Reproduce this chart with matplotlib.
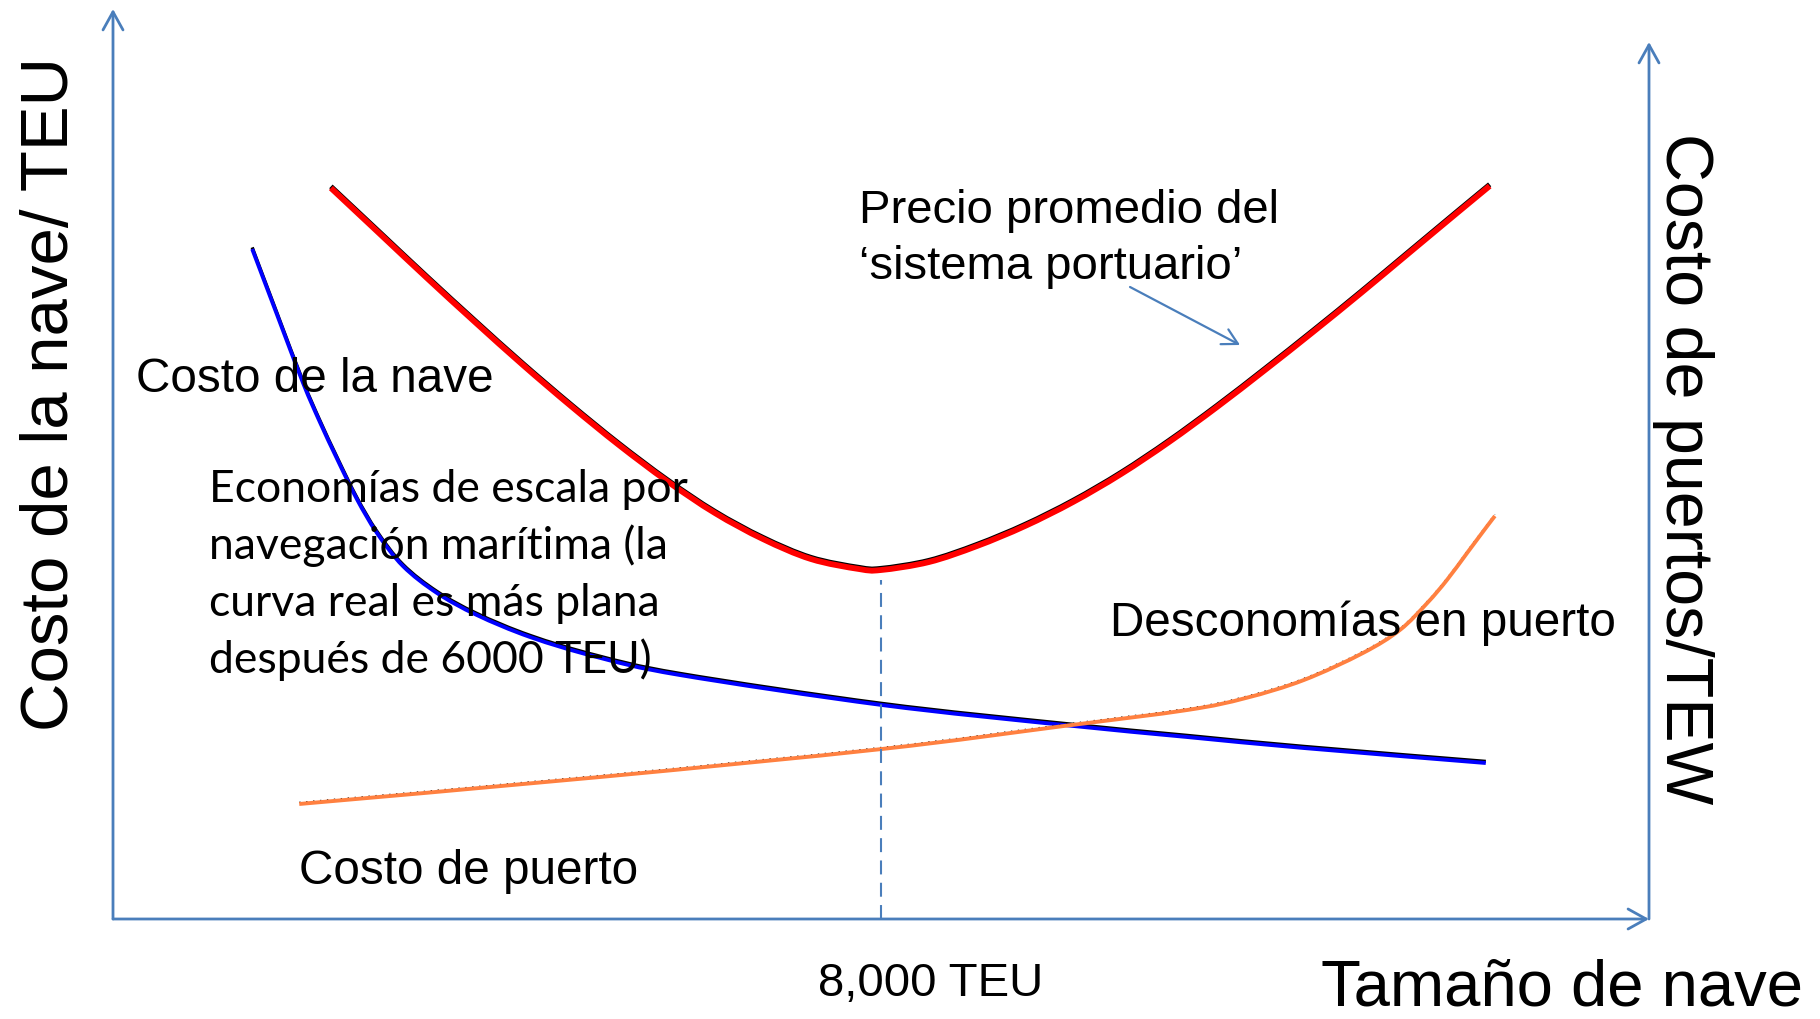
import numpy as np
import matplotlib
matplotlib.use("Agg")
import matplotlib.pyplot as plt
import matplotlib.transforms as mtransforms
from matplotlib.path import Path
from matplotlib.patches import PathPatch

# ship size (TEU) vs cost per TEU
precio_x = [2270, 2770, 3270, 3770, 4270, 4770, 5270, 5770, 6270, 6770, 7270, 7770,
            8000, 8500, 9000, 9500, 10000, 10500, 11000, 11500, 12000, 12500,
            13000, 13500, 14000, 14340]
precio_y = [73.1, 68.6, 64.1, 59.7, 55.4, 51.3, 47.4, 43.8, 40.6, 38.0, 36.0, 35.0,
            34.9, 35.7, 37.3, 39.3, 41.7, 44.5, 47.7, 51.2, 54.9, 58.7,
            62.6, 66.6, 70.6, 73.3]

nave_x = [1450, 1710, 1980, 2155, 2335, 2540, 2750, 3020, 3375, 3790,
          4345, 5040, 5905, 8010, 9905, 11190, 12405, 14300]
nave_y = [67.0, 60.4, 53.6, 49.7, 46.0, 42.0, 38.6, 35.3, 32.6, 30.4,
          28.2, 26.2, 24.4, 21.4, 19.4, 18.2, 17.1, 15.6]

puerto_x = [1940, 5075, 8010, 9905, 11190, 11800, 12405, 13020, 13405, 13690,
            13895, 14105, 14315, 14395]
puerto_y = [11.5, 14.2, 17.0, 19.3, 20.9, 22.1, 23.9, 26.6, 28.9, 31.6,
            33.9, 36.6, 39.3, 40.3]

optimo_teu = 8000
optimo_costo = 33.9
x_max = 16000
y_max_izq = 91.0
y_max_der = 87.7

eco_lineas = ["Economías de escala por",
              "navegación marítima (la",
              "curva real es más plana",
              "después de 6000 TEU)"]
precio_lineas = ["Precio promedio del", "\u2018sistema portuario\u2019"]

azul = "#4a7ebb"
arial = ["Liberation Sans", "DejaVu Sans"]
calibri = ["Lato", "DejaVu Sans"]


def curva_suave(xs, ys):
    # smooth bezier path through the points (catmull-rom tangents)
    p = np.column_stack([xs, ys]).astype(float)
    verts = [p[0]]
    codes = [Path.MOVETO]
    n = len(p)
    for i in range(n - 1):
        a = p[i - 1] if i > 0 else p[i]
        b = p[i]
        c = p[i + 1]
        d = p[i + 2] if i + 2 < n else p[i + 1]
        verts += [b + (c - a) / 6.0, c - (d - b) / 6.0, c]
        codes += [Path.CURVE4] * 3
    return Path(verts, codes)


def trazo(path, color, lw, transform, **kw):
    ax.add_patch(PathPatch(path, facecolor="none", edgecolor=color, lw=lw,
                           transform=transform, capstyle="butt", **kw))


fig = plt.figure(figsize=(18.2, 10.19), dpi=100)
ax = fig.add_axes([0, 0, 1, 1])
ax.set_xlim(-1177.1, 17781.25)
ax.set_ylim(-10, 91.9)
ax.axis("off")

# axes drawn as open arrows
flecha = dict(arrowstyle="->,head_length=0.65,head_width=0.36", color=azul,
              lw=2.0, shrinkA=0, shrinkB=0, mutation_scale=20)
ax.annotate("", xy=(0, y_max_izq), xytext=(0, 0), arrowprops=flecha)
ax.annotate("", xy=(x_max, 0), xytext=(0, 0), arrowprops=flecha)
ax.annotate("", xy=(x_max, y_max_der), xytext=(x_max, 0), arrowprops=flecha)

# curves with a thin black edge just above them
sombra = mtransforms.offset_copy(ax.transData, fig=fig, x=0, y=1.6, units="dots")
p_precio = curva_suave(precio_x, precio_y)
p_nave = curva_suave(nave_x, nave_y)
p_puerto = curva_suave(puerto_x, puerto_y)
trazo(p_precio, "black", 3.6, sombra)
trazo(p_precio, "#ff0000", 4.2, ax.transData)
trazo(p_nave, "black", 2.4, sombra)
trazo(p_nave, "#0000ff", 2.8, ax.transData)
trazo(p_puerto, "black", 1.0, sombra, linestyle=(0, (1, 4)))
trazo(p_puerto, "#ff8040", 2.8, ax.transData)

# optimum ship size
ax.plot([optimo_teu, optimo_teu], [0, optimo_costo], color=azul, lw=1.5,
        dashes=(6.7, 4))

ax.annotate("", xy=(11740, 57.4), xytext=(10594, 63.2),
            arrowprops=dict(arrowstyle="->,head_length=0.55,head_width=0.3",
                            color=azul, lw=1.6, shrinkA=0, shrinkB=0,
                            mutation_scale=20))

for i, linea in enumerate(precio_lineas):
    ax.text(7771, 69.6 - 5.6 * i, linea, fontsize=34, family=arial,
            ha="left", va="baseline")

for i, linea in enumerate(eco_lineas):
    ax.text(1000, 41.7 - 5.7 * i, linea, fontsize=32, family=calibri,
            ha="left", va="baseline")

ax.text(240, 52.7, "Costo de la nave", fontsize=34.3, family=arial, va="baseline")
ax.text(10385, 28.3, "Desconomías en puerto", fontsize=34.3, family=arial, va="baseline")
ax.text(1938, 3.5, "Costo de puerto", fontsize=34.3, family=arial, va="baseline")
ax.text(7344, -7.7, "8,000 TEU", fontsize=34, family=arial, va="baseline")
ax.text(12580, -8.7, "Tamaño de nave", fontsize=47, family=arial, va="baseline")

ax.text(-470, 18.8, "Costo de la nave/ TEU", fontsize=48.3, family=arial,
        rotation=90, rotation_mode="anchor", ha="left", va="baseline")
ax.text(16177, 78.6, "Costo de puertos/TEW", fontsize=47.8, family=arial,
        rotation=-90, rotation_mode="anchor", ha="left", va="baseline")

fig.savefig("out.png", dpi=100)
